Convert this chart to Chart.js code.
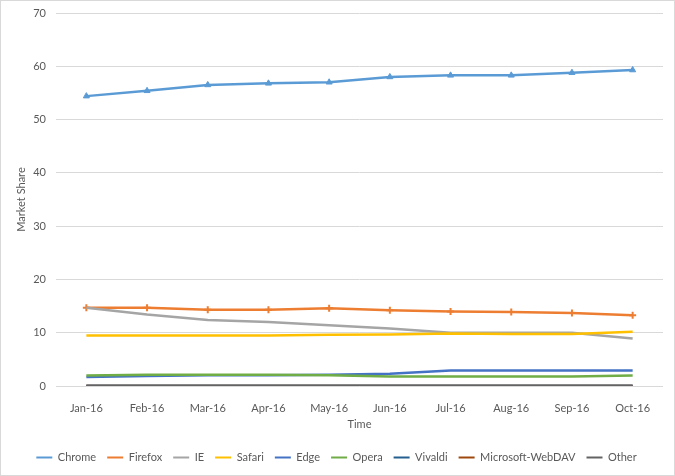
<!DOCTYPE html>
<html>
<head>
<meta charset="utf-8">
<script src="https://cdn.jsdelivr.net/npm/chart.js@4/dist/chart.umd.min.js"></script>
<style>
body { margin: 0; background: #fff; }
canvas { display: block; }
</style>
</head>
<body>
<canvas id="myChart" width="675" height="476"></canvas>
<script>
var months = ["Jan-16", "Feb-16", "Mar-16", "Apr-16", "May-16", "Jun-16", "Jul-16", "Aug-16", "Sep-16", "Oct-16"];
var seriesNames = ["Chrome", "Firefox", "IE", "Safari", "Edge", "Opera", "Vivaldi", "Microsoft-WebDAV", "Other"];

var chrome  = [54.4, 55.4, 56.5, 56.8, 57.0, 58.0, 58.3, 58.3, 58.8, 59.3];
var firefox = [14.7, 14.7, 14.3, 14.3, 14.6, 14.2, 14.0, 13.9, 13.7, 13.3];
var ie      = [14.7, 13.4, 12.4, 12.0, 11.4, 10.8, 10.0, 10.0, 10.0, 8.9];
var safari  = [9.5, 9.5, 9.5, 9.5, 9.6, 9.65, 9.85, 9.75, 9.75, 10.2];
var edge    = [1.7, 1.9, 2.0, 2.0, 2.1, 2.3, 2.9, 2.9, 2.9, 2.9];
var opera   = [1.95, 2.1, 2.1, 2.1, 2.0, 1.8, 1.8, 1.8, 1.8, 1.95];
var vivaldi = [0.05, 0.05, 0.05, 0.05, 0.05, 0.05, 0.05, 0.05, 0.05, 0.05];
var webdav  = [0.02, 0.02, 0.02, 0.02, 0.02, 0.02, 0.02, 0.02, 0.02, 0.02];
var other   = [0, 0, 0, 0, 0, 0, 0, 0, 0, 0];

var yTicks = [0, 10, 20, 30, 40, 50, 60, 70];

var colors = ['#5B9BD5', '#ED7D31', '#A5A5A5', '#FFC000', '#4472C4', '#70AD47', '#255E91', '#9E480E', '#636363'];
var markers = ['triangle', 'cross', false, false, false, false, false, false, false];
var allData = [chrome, firefox, ie, safari, edge, opera, vivaldi, webdav, other];

var textColor = '#595959';
var fontFam = 'Lato, "Open Sans", sans-serif';

// datasets: later series drawn on top like in Excel
var datasets = [];
for (var i = 0; i < seriesNames.length; i++) {
	datasets.push({
		label: seriesNames[i],
		data: allData[i],
		borderColor: colors[i],
		backgroundColor: colors[i],
		borderWidth: 2.5,
		pointStyle: markers[i],
		pointRadius: markers[i] ? 3.5 : 0,
		pointBorderWidth: markers[i] == 'cross' ? 2 : 1,
		tension: 0,
		order: seriesNames.length - i
	});
}

// frame + markers on legend lines
var extras = {
	id: 'extras',
	afterDraw: function (chart) {
		var ctx = chart.ctx;
		ctx.save();
		ctx.strokeStyle = '#d9d9d9';
		ctx.lineWidth = 1;
		ctx.strokeRect(0.5, 0.5, chart.width - 1, chart.height - 1);
		var boxes = chart.legend.legendHitBoxes;
		var items = chart.legend.legendItems;
		for (var k = 0; k < items.length; k++) {
			var di = items[k].datasetIndex;
			if (!markers[di]) continue;
			var b = boxes[k];
			var cx = b.left + 8;
			var cy = b.top + b.height / 2;
			var ds = chart.data.datasets[di];
			ctx.strokeStyle = ds.borderColor;
			ctx.fillStyle = ds.backgroundColor;
			Chart.helpers.drawPoint(ctx, {
				pointStyle: ds.pointStyle,
				rotation: 0,
				borderWidth: ds.pointBorderWidth
			}, cx, cy, 3.5);
		}
		ctx.restore();
	}
};

var el = document.getElementById('myChart');
var myChart = new Chart(el, {
	type: 'line',
	data: {
		labels: months,
		datasets: datasets
	},
	plugins: [extras],
	options: {
		responsive: false,
		animation: false,
		layout: { padding: { top: 0, right: 12, left: 10, bottom: 3 } },
		plugins: {
			tooltip: { enabled: false },
			legend: {
				position: 'bottom',
				labels: {
					color: textColor,
					font: { family: fontFam, size: 11 },
					boxWidth: 16,
					boxHeight: 2,
					padding: 11,
					sort: function (a, b) { return a.datasetIndex - b.datasetIndex; },
					generateLabels: function (chart) {
						var list = Chart.defaults.plugins.legend.labels.generateLabels(chart);
						list.forEach(function (it) { it.lineWidth = 0; });
						return list;
					}
				}
			}
		},
		scales: {
			x: {
				offset: true,
				grid: { display: false, drawTicks: false },
				border: { display: false },
				ticks: {
					color: textColor,
					font: { family: fontFam, size: 11 },
					padding: 16,
					maxRotation: 0
				},
				title: {
					display: true,
					text: 'Time',
					color: textColor,
					font: { family: fontFam, size: 11 },
					padding: { top: 4, bottom: 10 }
				},
				afterFit: function (s) { s.height = 55; }
			},
			y: {
				min: 0,
				max: 70,
				afterBuildTicks: function (s) {
					s.ticks = yTicks.map(function (v) { return { value: v }; });
				},
				grid: { color: '#d9d9d9', drawTicks: false },
				border: { display: false },
				ticks: {
					color: textColor,
					font: { family: fontFam, size: 11 },
					padding: 10
				},
				title: {
					display: true,
					text: 'Market Share',
					color: textColor,
					font: { family: fontFam, size: 11 },
					padding: { top: 5, bottom: 0 }
				},
				afterFit: function (s) { s.width = 46; s.paddingTop = 13; }
			}
		}
	}
});
</script>
</body>
</html>
